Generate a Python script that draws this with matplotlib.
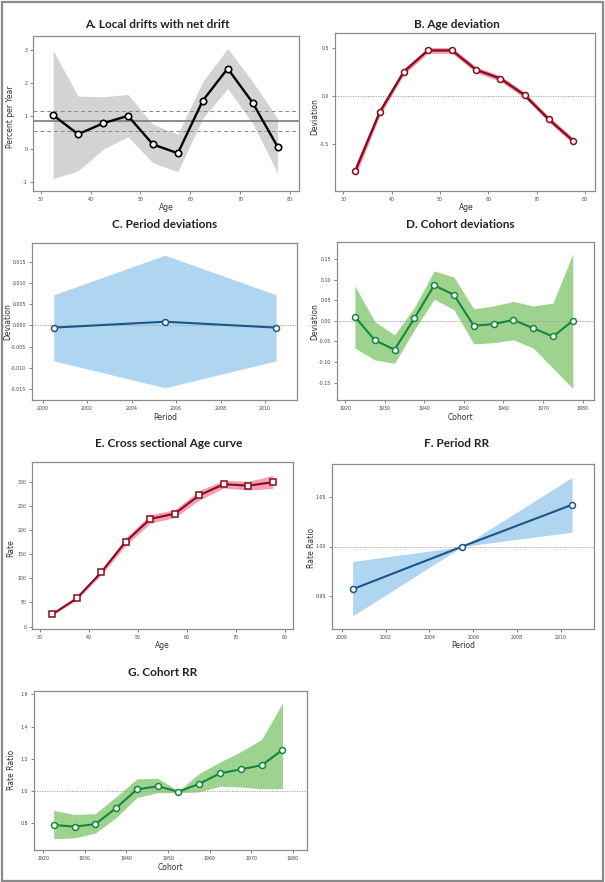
import matplotlib
matplotlib.use('Agg')
import matplotlib.pyplot as plt
from matplotlib.patches import Rectangle

W, H = 605., 882.

# ---- data ----
age = [32.5, 37.5, 42.5, 47.5, 52.5, 57.5, 62.5, 67.5, 72.5, 77.5]
period = [2000.5, 2005.5, 2010.5]
cohort = [1922.5, 1927.5, 1932.5, 1937.5, 1942.5, 1947.5, 1952.5, 1957.5, 1962.5, 1967.5, 1972.5, 1977.5]

drift = [1.03, 0.45, 0.78, 1.01, 0.14, -0.13, 1.47, 2.45, 1.41, 0.07]
drift_hi = [3.00, 1.61, 1.59, 1.66, 0.75, 0.45, 2.05, 3.06, 2.05, 0.93]
drift_lo = [-0.90, -0.67, -0.01, 0.37, -0.42, -0.69, 0.93, 1.84, 0.78, -0.73]
net_drift = 0.86
net_drift_ci = [0.55, 1.16]

age_dev = [-0.77, -0.17, 0.25, 0.47, 0.47, 0.27, 0.18, 0.01, -0.24, -0.46]
age_dev_hi = [-0.71, -0.13, 0.28, 0.50, 0.50, 0.30, 0.21, 0.04, -0.21, -0.43]
age_dev_lo = [-0.83, -0.21, 0.22, 0.44, 0.44, 0.24, 0.15, -0.02, -0.27, -0.49]

per_dev = [-0.0005, 0.0009, -0.0005]
per_dev_hi = [0.0073, 0.0167, 0.0073]
per_dev_lo = [-0.0084, -0.0148, -0.0084]

coh_dev = [0.010, -0.047, -0.070, 0.006, 0.086, 0.063, -0.012, -0.008, 0.002, -0.018, -0.038, 0.000]
coh_dev_hi = [0.085, -0.002, -0.034, 0.032, 0.121, 0.106, 0.029, 0.036, 0.047, 0.036, 0.043, 0.162]
coh_dev_lo = [-0.066, -0.095, -0.103, -0.022, 0.052, 0.027, -0.056, -0.053, -0.046, -0.066, -0.115, -0.164]

rate = [25.5, 58.6, 112.5, 176, 223, 234, 272, 295, 292, 299]
rate_hi = [27, 62, 118, 184, 232, 242, 282, 303, 301, 313]
rate_lo = [23, 55, 107, 168, 214, 226, 262, 287, 283, 286]

per_rr = [0.9565, 1.0, 1.0425]
per_rr_hi = [0.9847, 1.0, 1.0704]
per_rr_lo = [0.9293, 1.0, 1.0146]

coh_rr = [0.79, 0.78, 0.795, 0.895, 1.01, 1.03, 0.996, 1.045, 1.11, 1.135, 1.16, 1.255]
coh_rr_hi = [0.88, 0.855, 0.86, 0.965, 1.075, 1.08, 1.0, 1.11, 1.18, 1.245, 1.32, 1.545]
coh_rr_lo = [0.705, 0.71, 0.74, 0.835, 0.96, 0.99, 0.99, 0.995, 1.03, 1.025, 1.015, 1.015]

age_ticks = [30, 40, 50, 60, 70, 80]
per_ticks = [2000, 2002, 2004, 2006, 2008, 2010]
coh_ticks = [1920, 1930, 1940, 1950, 1960, 1970, 1980]

GRAY = '#d3d3d3'
RED, PINK = '#8a0a1e', '#f0a0b2'
BLUE, LBLUE = '#1a5688', '#b0d5f1'
GREEN, LGREEN = '#13883a', '#9dd38f'

fig = plt.figure(figsize=(W / 100, H / 100), dpi=100)
fig.patch.set_facecolor('white')
fig.patches.append(Rectangle((0.003, 0.001), 0.994, 0.997, transform=fig.transFigure,
                             fill=False, edgecolor='#8a8a8a', lw=1.6))

def panel(box, xlim, ylim, xt, yt, ylabels, title, tpos, xlab, xlpos, ylab, ylpos):
	"make one panel from pixel box (x0, y0, x1, y1)"
	x0, y0, x1, y1 = box
	ax = fig.add_axes([x0 / W, 1 - y1 / H, (x1 - x0) / W, (y1 - y0) / H])
	ax.set_xlim(xlim)
	ax.set_ylim(ylim)
	ax.set_xticks(xt)
	ax.set_xticklabels([str(v) for v in xt])
	ax.set_yticks(yt)
	ax.set_yticklabels(ylabels)
	for s in ax.spines.values():
		s.set_color('#8c8c8c')
		s.set_linewidth(0.9)
	ax.tick_params(length=2.5, width=0.6, colors='#707070', labelsize=3.4,
	               labelcolor='#444444', pad=1.5)
	fig.text(tpos[0] / W, 1 - tpos[1] / H, title, ha='center', va='center',
	         fontsize=8.5, fontweight='bold', family=['Lato', 'DejaVu Sans'], color='#222222')
	fig.text(xlpos[0] / W, 1 - xlpos[1] / H, xlab, ha='center', va='center',
	         fontsize=5.5, color='#333333')
	fig.text(ylpos[0] / W, 1 - ylpos[1] / H, ylab, ha='center', va='center',
	         fontsize=5.5, color='#333333', rotation=90)
	return ax

def curve(ax, x, y, lo, hi, band, col, lw=1.5, marker='o', ms=4.3):
	ax.fill_between(x, lo, hi, color=band, lw=0, zorder=1)
	ax.plot(x, y, color=col, lw=lw, marker=marker, ms=ms, mfc='white',
	        mec=col, mew=1.1, zorder=3)

def zero(ax, v):
	ax.axhline(v, color='#999999', lw=0.6, ls=(0, (1.5, 1.5)), zorder=2)

# A
ax = panel((33, 36, 299, 191), (28.46, 81.8), (-1.28, 3.44), age_ticks, [-1, 0, 1, 2, 3],
           ['-1', '0', '1', '2', '3'], 'A. Local drifts with net drift', (157, 24),
           'Age', (166, 207), 'Percent per Year', (11, 117))
ax.fill_between(age, drift_lo, drift_hi, color=GRAY, lw=0, zorder=1)
ax.axhline(net_drift, color='#7a7a7a', lw=1.2, zorder=2)
for v in net_drift_ci:
	ax.axhline(v, color='#8a8a8a', lw=0.7, ls=(0, (4, 3)), zorder=2)
ax.plot(age, drift, color='black', lw=1.7, marker='o', ms=4.6, mfc='white',
        mec='black', mew=1.2, zorder=3)

# B
ax = panel((335, 33, 595, 191), (28.28, 82.07), (-0.98, 0.65), age_ticks, [-0.5, 0.0, 0.5],
           ['-0.5', '0.0', '0.5'], 'B. Age deviation', (457, 24),
           'Age', (466, 207), 'Deviation', (315, 117))
zero(ax, 0)
curve(ax, age, age_dev, age_dev_lo, age_dev_hi, PINK, RED, lw=1.7)

# C
yt = [-0.015, -0.010, -0.005, 0.0, 0.005, 0.010, 0.015]
ax = panel((32, 243, 297, 400), (1999.52, 2011.44), (-0.0177, 0.0196), per_ticks, yt,
           ['%.3f' % v for v in yt], 'C. Period deviations', (165, 224),
           'Period', (165, 417), 'Deviation', (8, 322))
zero(ax, 0)
curve(ax, period, per_dev, per_dev_lo, per_dev_hi, LBLUE, BLUE)

# D
yt = [-0.15, -0.10, -0.05, 0.0, 0.05, 0.10, 0.15]
ax = panel((337, 242, 594, 400), (1917.98, 1982.85), (-0.192, 0.191), coh_ticks, yt,
           ['%.2f' % v for v in yt], 'D. Cohort deviations', (460, 224),
           'Cohort', (460, 417), 'Deviation', (315, 322))
zero(ax, 0)
curve(ax, cohort, coh_dev, coh_dev_lo, coh_dev_hi, LGREEN, GREEN)

# E
yt = [0, 50, 100, 150, 200, 250, 300]
ax = panel((32, 462, 293, 629), (28.37, 81.63), (-5, 341), age_ticks, yt,
           [str(v) for v in yt], 'E. Cross sectional Age curve', (169, 443),
           'Age', (162, 646), 'Rate', (11, 548))
curve(ax, age, rate, rate_lo, rate_hi, PINK, RED, marker='s', ms=4.3)

# F
ax = panel((332, 464, 594, 629), (1999.56, 2011.5), (0.916, 1.084), per_ticks, [0.95, 1.00, 1.05],
           ['0.95', '1.00', '1.05'], 'F. Period RR', (457, 443),
           'Period', (463, 646), 'Rate Ratio', (311, 548))
zero(ax, 1)
curve(ax, period, per_rr, per_rr_lo, per_rr_hi, LBLUE, BLUE)

# G
ax = panel((34, 691, 307, 850), (1917.76, 1983.4), (0.635, 1.62), coh_ticks, [0.8, 1.0, 1.2, 1.4, 1.6],
           ['0.8', '1.0', '1.2', '1.4', '1.6'], 'G. Cohort RR', (163, 672),
           'Cohort', (170, 867), 'Rate Ratio', (11, 770))
zero(ax, 1)
curve(ax, cohort, coh_rr, coh_rr_lo, coh_rr_hi, LGREEN, GREEN)

plt.savefig('out.png', dpi=100)
